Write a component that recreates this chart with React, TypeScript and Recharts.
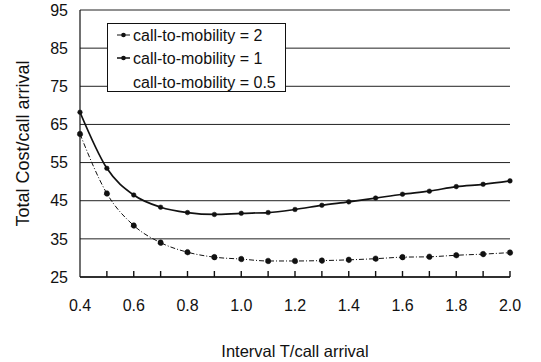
import { LineChart, Line, XAxis, YAxis, CartesianGrid } from "recharts";

// interval T / call arrival
const intervals = [0.4, 0.5, 0.6, 0.7, 0.8, 0.9, 1.0, 1.1, 1.2, 1.3, 1.4, 1.5, 1.6, 1.7, 1.8, 1.9, 2.0];
// total cost per call arrival
const costRatio2 = [62.5, 46.9, 38.5, 34.0, 31.5, 30.2, 29.7, 29.2, 29.2, 29.3, 29.5, 29.8, 30.2, 30.3, 30.7, 31.0, 31.4];
const costRatio1 = [68.2, 53.5, 46.5, 43.3, 41.9, 41.4, 41.7, 41.9, 42.7, 43.8, 44.7, 45.7, 46.7, 47.5, 48.7, 49.3, 50.2];
const seriesNames = ["call-to-mobility = 2", "call-to-mobility = 1", "call-to-mobility = 0.5"];
const yTicks = [25, 35, 45, 55, 65, 75, 85, 95];

const data = intervals.map((t, i) => ({ t, r2: costRatio2[i], r1: costRatio1[i] }));

const FONT = "Arial, 'Liberation Sans', sans-serif";

// ticks point up into the plot, labels only on every second one
function XTick(props: any) {
  const { x, y, payload } = props;
  const v = payload.value as number;
  const showLabel = Math.round(v * 10) % 2 === 0;
  return (
    <g>
      {v > 0.45 && <line x1={x} x2={x} y1={y} y2={y - 6} stroke="#111" strokeWidth={1.4} />}
      {showLabel && (
        <text x={x} y={y + 34} textAnchor="middle" fontSize={16} fontFamily={FONT} fill="#111">
          {v.toFixed(1)}
        </text>
      )}
    </g>
  );
}

// legend drawn as an overlay so it doesn't eat into the plot area
function LegendBox() {
  const rows = [12, 35, 59];
  return (
    <svg width={180} height={70} style={{ position: "absolute", left: 107, top: 23 }}>
      <rect x={0.5} y={0.5} width={178} height={68} fill="#fff" stroke="#111" strokeWidth={1} />
      {seriesNames.map((name, i) => (
        <g key={name}>
          {i < 2 && (
            <g>
              <line x1={10} x2={23} y1={rows[i]} y2={rows[i]} stroke="#111" strokeWidth={i === 0 ? 1 : 1.5} />
              <circle cx={16.5} cy={rows[i]} r={2.3} fill="#111" />
            </g>
          )}
          <text x={26} y={rows[i] + 5.5} fontSize={16} fontFamily={FONT} fill="#111">
            {name}
          </text>
        </g>
      ))}
    </svg>
  );
}

export default function App() {
  return (
    <div style={{ position: "absolute", left: 0, top: 0, width: 541, height: 362, background: "#fff" }}>
      <LineChart width={541} height={362} data={data} margin={{ top: 10, right: 31, left: 0, bottom: 0 }}>
        <CartesianGrid vertical={false} stroke="#222" strokeWidth={1} />
        <XAxis
          dataKey="t"
          type="number"
          domain={[0.4, 2.0]}
          ticks={intervals}
          interval={0}
          height={85}
          tickSize={0}
          tickMargin={0}
          tickLine={false}
          axisLine={{ stroke: "#111", strokeWidth: 1.4 }}
          tick={<XTick />}
          label={{
            content: (p: any) => {
              const vb = p.viewBox;
              return (
                <text x={vb.x + vb.width / 2} y={vb.y + 80} textAnchor="middle" fontSize={16.5} fontFamily={FONT} fill="#111">
                  Interval T/call arrival
                </text>
              );
            },
          }}
        />
        <YAxis
          type="number"
          domain={[25, 95]}
          ticks={yTicks}
          interval={0}
          width={80}
          tickSize={0}
          tickMargin={12}
          tickLine={false}
          axisLine={{ stroke: "#111", strokeWidth: 1.2 }}
          tick={{ fontSize: 16, fontFamily: FONT, fill: "#111" }}
          label={{
            content: (p: any) => {
              const vb = p.viewBox;
              const cx = 23;
              const cy = vb.y + vb.height / 2;
              return (
                <text
                  x={cx}
                  y={cy}
                  transform={`rotate(-90 ${cx} ${cy})`}
                  textAnchor="middle"
                  dominantBaseline="central"
                  fontSize={18}
                  fontFamily={FONT}
                  fill="#111"
                >
                  Total Cost/call arrival
                </text>
              );
            },
          }}
        />
        <Line
          dataKey="r2"
          name={seriesNames[0]}
          type="monotone"
          stroke="#111"
          strokeWidth={1}
          strokeDasharray="5 2 1 2"
          dot={{ r: 2.8, fill: "#111", stroke: "#111", strokeWidth: 0.5 }}
          isAnimationActive={false}
        />
        <Line
          dataKey="r1"
          name={seriesNames[1]}
          type="monotone"
          stroke="#111"
          strokeWidth={1.7}
          dot={{ r: 2.3, fill: "#111", stroke: "#111", strokeWidth: 0.5 }}
          isAnimationActive={false}
        />
      </LineChart>
      <LegendBox />
    </div>
  );
}
